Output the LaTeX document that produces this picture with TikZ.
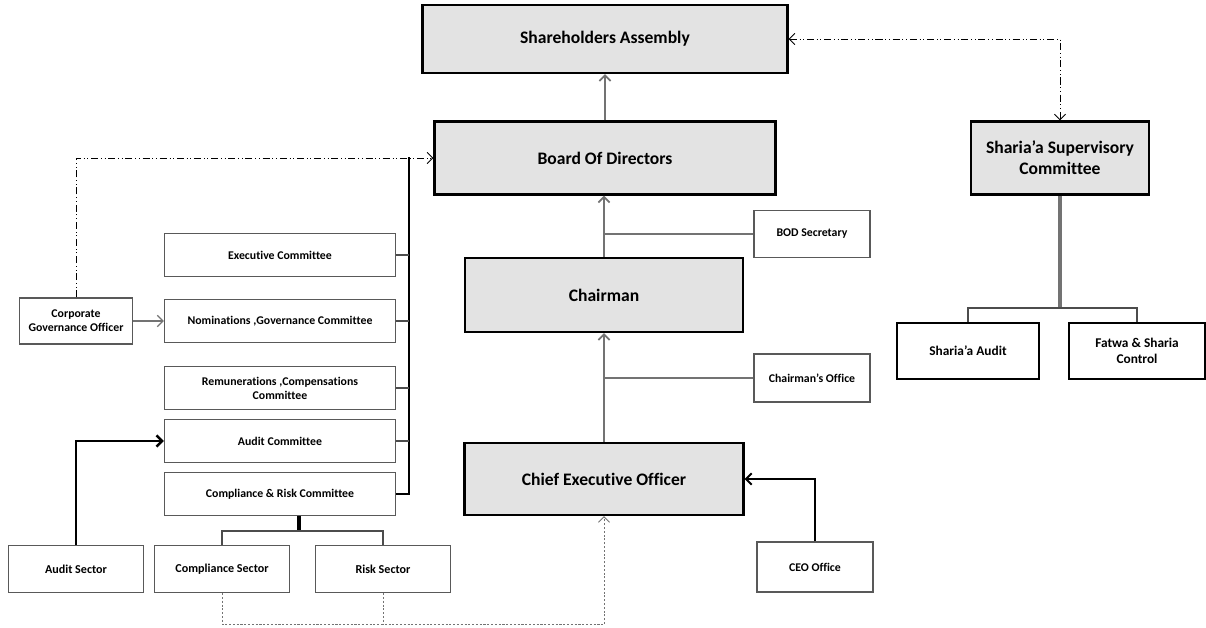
\documentclass[tikz,border=0pt]{standalone}
\usepackage{fontspec}
\setmainfont{Carlito}[Ligatures={TeX,NoCommon}]
\usetikzlibrary{positioning,arrows.meta}
\tikzset{
    big-box/.style = {draw=black, line width=1.6pt, fill=black!11, rectangle, align=center, inner sep=0pt, font=\fontsize{12.5}{15}\selectfont\bfseries},
    unit-box/.style = {draw=black, line width=1.6pt, fill=white, rectangle, align=center, inner sep=0pt, minimum height=1.4cm, font=\fontsize{9.5}{11.5}\selectfont\bfseries},
    small-box/.style = {draw=black!65, line width=0.9pt, fill=white, rectangle, align=center, inner sep=0pt, font=\fontsize{8.4}{10}\selectfont\bfseries},
    committee-box/.style = {small-box, minimum width=5.775cm, minimum height=1.075cm},
    sector-box/.style = {small-box, minimum width=3.375cm, minimum height=1.175cm, font=\fontsize{8.6}{10}\selectfont\bfseries},
    link/.style = {draw=black!55, line width=1.2pt},
    branch/.style = {draw=black!70, line width=0.8pt},
    bus/.style = {draw=black, line width=1.4pt},
    advisory/.style = {draw=black, line width=0.6pt, dash pattern=on 5pt off 2pt on 0.6pt off 2pt on 0.6pt off 2pt},
    report/.style = {draw=black!55, line width=0.6pt, dash pattern=on 1.5pt off 1.2pt},
    >={Straight Barb[length=4pt,width=8pt]},
}
\begin{document}
\begin{tikzpicture}[x=0.025cm, y=-0.025cm]
\useasboundingbox (0,0) rectangle (1206,627);

% main line
\node[big-box, minimum width=9.125cm, minimum height=1.7cm] (share) at (605,39) {Shareholders Assembly};
\node[big-box, minimum width=8.525cm, minimum height=1.825cm] (board) at (605,158) {Board Of Directors};
\node[big-box, minimum width=6.95cm, minimum height=1.85cm] (chair) at (604,295) {Chairman};
\node[big-box, minimum width=6.975cm, minimum height=1.8cm] (ceo) at (604,479) {Chief Executive Officer};

\node[small-box, minimum width=2.9cm, minimum height=1.175cm] (bodsec) at (812,234) {BOD Secretary};
\node[small-box, minimum width=2.9cm, minimum height=1.2cm] (choffice) at (812,378) {Chairman's Office};
\node[small-box, minimum width=2.9cm, minimum height=1.25cm] (ceooffice) at (815,567) {CEO Office};

% sharia
\node[big-box, minimum width=4.45cm, minimum height=1.825cm] (sharia) at (1060,158) {Sharia’a Supervisory\\Committee};
\node[unit-box, minimum width=3.55cm] (shaudit) at (968,351) {Sharia’a Audit};
\node[unit-box, minimum width=3.4cm] (fatwa) at (1137,351) {Fatwa \& Sharia\\Control};

% committees
\node[committee-box] (exec) at (280,255) {Executive Committee};
\node[committee-box] (nomin) at (280,321) {Nominations ,Governance Committee};
\node[committee-box] (remun) at (280,388) {Remunerations ,Compensations\\Committee};
\node[committee-box] (audcom) at (280,441) {Audit Committee};
\node[committee-box] (crisk) at (280,494) {Compliance \& Risk Committee};
\node[small-box, minimum width=2.825cm, minimum height=1.15cm] (cgo) at (76,321) {Corporate\\Governance Officer};

\node[sector-box] (ausec) at (76,569) {Audit Sector};
\node[sector-box] (compsec) at (222,569) {Compliance Sector};
\node[sector-box] (risksec) at (383,569) {Risk Sector};

% reporting lines
\draw[link,->] (board.north) -- (share.south);
\draw[link,->] (chair.north) -- (chair.north |- board.south);
\draw[link] (bodsec.west) -- (bodsec.west -| chair.north);
\draw[link,->] (ceo.north) -- (chair.south);
\draw[link] (choffice.west) -- (choffice.west -| chair.south);
\draw[bus,->] (ceooffice.north) |- (ceo.east);

\draw[advisory,<->] (share.east) -| (sharia.north);
\coordinate (sharia-fork) at (1060,308);
\draw[link, line width=2.2pt] (sharia.south) -- (sharia-fork);
\draw[branch] (shaudit.north) |- (sharia-fork) -| (fatwa.north);

\coordinate (bus-top) at (409,157);
\draw[bus] (bus-top) |- (crisk.east);
\foreach \c in {exec,nomin,remun,audcom}
    \draw[branch] (\c.east) -- (\c.east -| bus-top);
\draw[advisory,->] (cgo.north) |- (board.west);
\draw[link,->,line width=0.9pt] (cgo) -- (nomin);

\draw[bus,->,line width=1.8pt] (ausec.north) |- (audcom.west);
\coordinate (risk-fork) at (299,531);
\draw[bus,line width=2.2pt] (crisk.south -| risk-fork) -- (risk-fork);
\draw[branch] (compsec.north) |- (risk-fork) -| (risksec.north);

\coordinate (report-bend) at (604,624);
\draw[report] (compsec.south) |- (report-bend);
\draw[report] (risksec.south) -- (risksec.south |- report-bend);
\draw[report,->] (report-bend) -- (ceo.south);
\end{tikzpicture}
\end{document}
